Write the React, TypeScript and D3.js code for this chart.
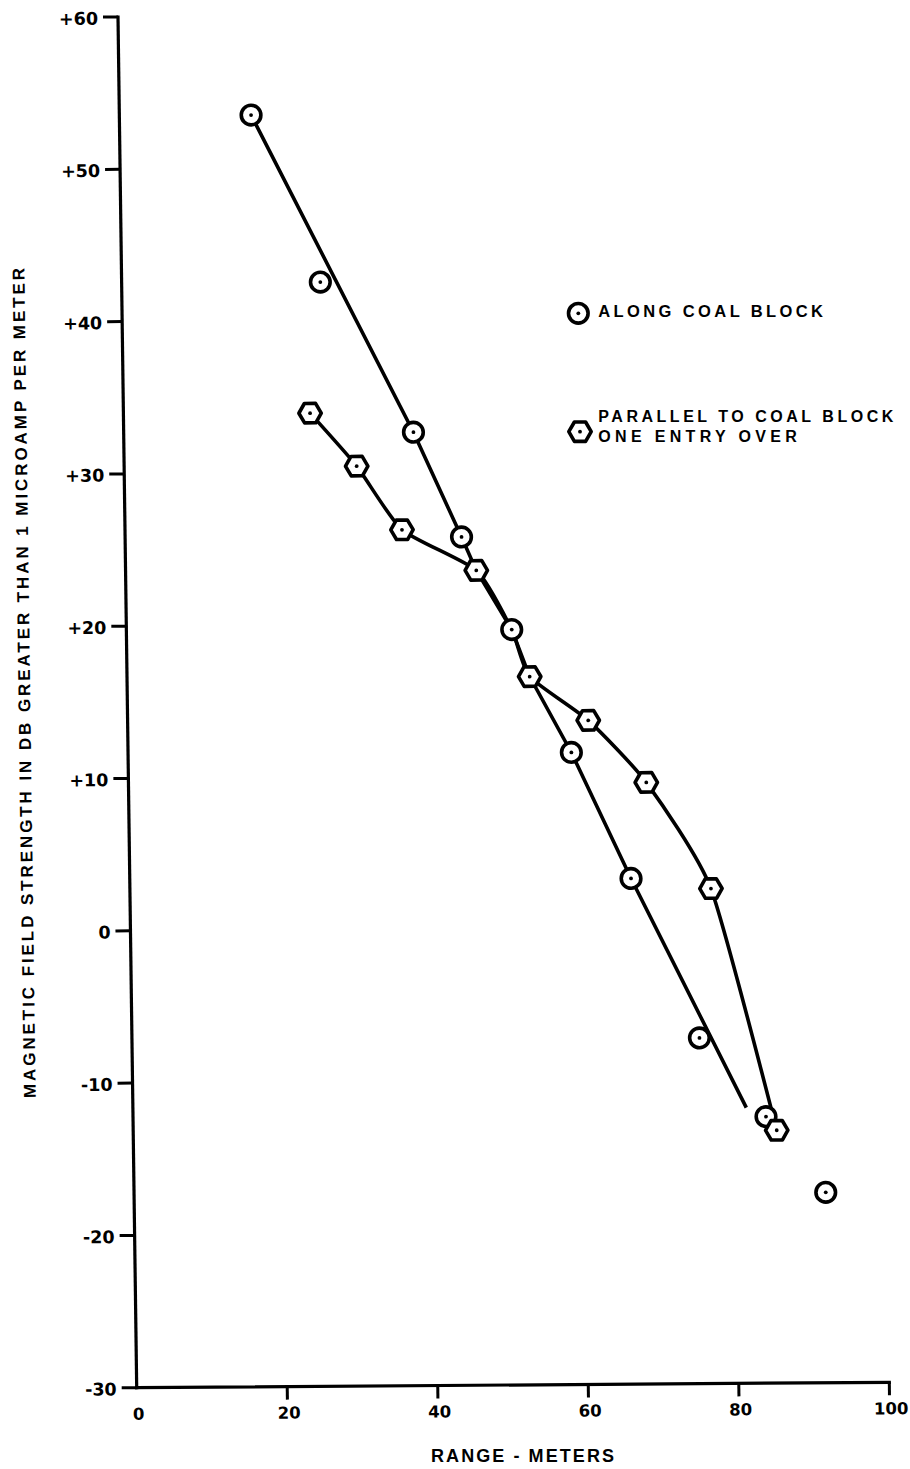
import React from "react";
import * as d3 from "d3";

// ---- data ----
const xTicks = [0, 20, 40, 60, 80, 100];
const yTicks = [60, 50, 40, 30, 20, 10, 0, -10, -20, -30];
const yTickLabels = ["+60", "+50", "+40", "+30", "+20", "+10", "0", "-10", "-20", "-30"];

// markers: "along coal block" (circles)
const alongX = [17.5, 26.4, 38.5, 44.7, 51.2, 58.9, 66.6, 75.4, 84.1, 91.9];
const alongY = [53.5, 42.5, 32.6, 25.7, 19.6, 11.5, 3.2, -7.3, -12.5, -17.5];
// markers: "parallel to coal block one entry over" (hexagons)
const parallelX = [24.8, 30.9, 36.8, 46.6, 53.5, 61.2, 68.8, 77.2, 85.5];
const parallelY = [33.9, 30.4, 26.2, 23.5, 16.5, 13.6, 9.5, 2.5, -13.4];

// hand-drawn fitted curves (knots)
const alongCurveX = [17.5, 38.5, 44.7, 46.6, 51.2, 53.5, 58.9, 66.6, 81.5];
const alongCurveY = [53.5, 32.6, 25.7, 23.5, 19.6, 16.5, 11.5, 3.2, -11.9];
const parallelCurveX = [24.8, 30.9, 36.8, 46.6, 51.2, 53.5, 61.2, 68.8, 77.2, 85.5];
const parallelCurveY = [33.9, 30.4, 26.2, 23.5, 19.6, 16.5, 13.6, 9.5, 2.5, -13.4];

const legendLabels = ["ALONG COAL BLOCK", "PARALLEL TO COAL BLOCK", "ONE ENTRY OVER"];
const xTitle = "RANGE - METERS";
const yTitle = "MAGNETIC FIELD STRENGTH IN DB GREATER THAN 1 MICROAMP PER METER";

// ---- layout ----
const W = 910;
const H = 1469;
const X0 = 136.7;
const X1 = 889.3;
const Y0 = 1387.7;
const Y1 = 17;
// scan tilt (affine shear)
const KX = 0.01364;
const KY = -0.00718;

const xScale = d3.scaleLinear().domain([0, 100]).range([X0, X1]);
const yScale = d3.scaleLinear().domain([-30, 60]).range([Y0, Y1]);

const SW = 3.6;
const numFont = "'DejaVu Sans', sans-serif";
const txtFont = "'Liberation Sans', Arial, sans-serif";

function hexPath(R: number) {
  const pts = d3.range(6).map((i) => {
    const a = (Math.PI / 3) * i;
    return [R * Math.cos(a), R * Math.sin(a)];
  });
  return "M" + pts.map((p) => p[0].toFixed(2) + "," + p[1].toFixed(2)).join("L") + "Z";
}

function CircleMarker({ x, y }: { x: number; y: number }) {
  return (
    <g transform={`translate(${x},${y})`}>
      <circle r={9.8} fill="#fff" stroke="#000" strokeWidth={SW} />
      <circle r={1.9} fill="#000" />
    </g>
  );
}

function HexMarker({ x, y }: { x: number; y: number }) {
  return (
    <g transform={`translate(${x},${y})`}>
      <path d={hexPath(11.2)} fill="#fff" stroke="#000" strokeWidth={SW} strokeLinejoin="round" />
      <circle r={1.9} fill="#000" />
    </g>
  );
}

export default function App() {
  const alongPts: [number, number][] = alongCurveX.map((x, i) => [xScale(x), yScale(alongCurveY[i])]);
  const parallelPts: [number, number][] = parallelCurveX.map((x, i) => [xScale(x), yScale(parallelCurveY[i])]);
  const alongGen = d3.line().curve(d3.curveLinear);
  const parallelGen = d3.line().curve(d3.curveCardinal.tension(0.45));

  const matrix = `matrix(1,${KY},${KX},1,${-KX * Y0},${-KY * X0})`;

  return (
    <svg
      width={W}
      height={H}
      viewBox={`0 0 ${W} ${H}`}
      style={{ position: "absolute", left: 0, top: 0, display: "block", background: "#fff" }}
    >
      <rect width={W} height={H} fill="#fff" />
      <g transform={matrix}>
        {/* axes */}
        <line x1={X0} y1={Y0} x2={X0} y2={Y1} stroke="#000" strokeWidth={3.2} strokeLinecap="square" />
        <line x1={X0} y1={Y0} x2={X1} y2={Y0} stroke="#000" strokeWidth={3.2} strokeLinecap="square" />
        {/* y ticks */}
        {yTicks.map((t, i) => (
          <g key={"yt" + t}>
            <line x1={X0 - 15} x2={X0} y1={yScale(t)} y2={yScale(t)} stroke="#000" strokeWidth={3} />
            <text
              x={X0 - 20}
              y={yScale(t) + 7.5}
              textAnchor="end"
              fontFamily={numFont}
              fontWeight="bold"
              fontSize={17.5}
              fill="#000"
            >
              {yTickLabels[i]}
            </text>
          </g>
        ))}
        {/* x ticks */}
        {xTicks.map((t) => (
          <g key={"xt" + t}>
            {t > 0 && (
              <line x1={xScale(t)} x2={xScale(t)} y1={Y0} y2={Y0 + 13} stroke="#000" strokeWidth={3} />
            )}
            <text
              x={xScale(t) + 1.5}
              y={Y0 + 32}
              textAnchor="middle"
              fontFamily={numFont}
              fontWeight="bold"
              fontSize={16.5}
              fill="#000"
            >
              {t}
            </text>
          </g>
        ))}
        {/* y title */}
        <text
          transform={`translate(39.6,682.3) rotate(-90)`}
          textAnchor="middle"
          fontFamily={txtFont}
          fontWeight="bold"
          fontSize={17}
          textLength={830}
          lengthAdjust="spacing"
          fill="#000"
        >
          {yTitle}
        </text>

        {/* curves */}
        <path d={alongGen(alongPts) || ""} fill="none" stroke="#000" strokeWidth={SW} />
        <path d={parallelGen(parallelPts) || ""} fill="none" stroke="#000" strokeWidth={SW} />

        {/* markers */}
        {alongX.map((x, i) => (
          <CircleMarker key={"c" + i} x={xScale(x)} y={yScale(alongY[i])} />
        ))}
        {parallelX.map((x, i) => (
          <HexMarker key={"h" + i} x={xScale(x)} y={yScale(parallelY[i])} />
        ))}
      </g>

      {/* x title */}
      <text
        x={431}
        y={1461.7}
        fontFamily={txtFont}
        fontWeight="bold"
        fontSize={18}
        textLength={183}
        lengthAdjust="spacing"
        fill="#000"
      >
        {xTitle}
      </text>

      {/* legend */}
      <CircleMarker x={578.3} y={313.3} />
      <text
        x={598.3}
        y={317.3}
        fontFamily={txtFont}
        fontWeight="bold"
        fontSize={16.5}
        textLength={224.7}
        lengthAdjust="spacing"
        fill="#000"
      >
        {legendLabels[0]}
      </text>
      <HexMarker x={580} y={431.7} />
      <text
        x={598.3}
        y={422}
        fontFamily={txtFont}
        fontWeight="bold"
        fontSize={16}
        textLength={295}
        lengthAdjust="spacing"
        fill="#000"
      >
        {legendLabels[1]}
      </text>
      <text
        x={598.3}
        y={441.5}
        fontFamily={txtFont}
        fontWeight="bold"
        fontSize={16}
        textLength={198.4}
        lengthAdjust="spacing"
        fill="#000"
      >
        {legendLabels[2]}
      </text>
    </svg>
  );
}
